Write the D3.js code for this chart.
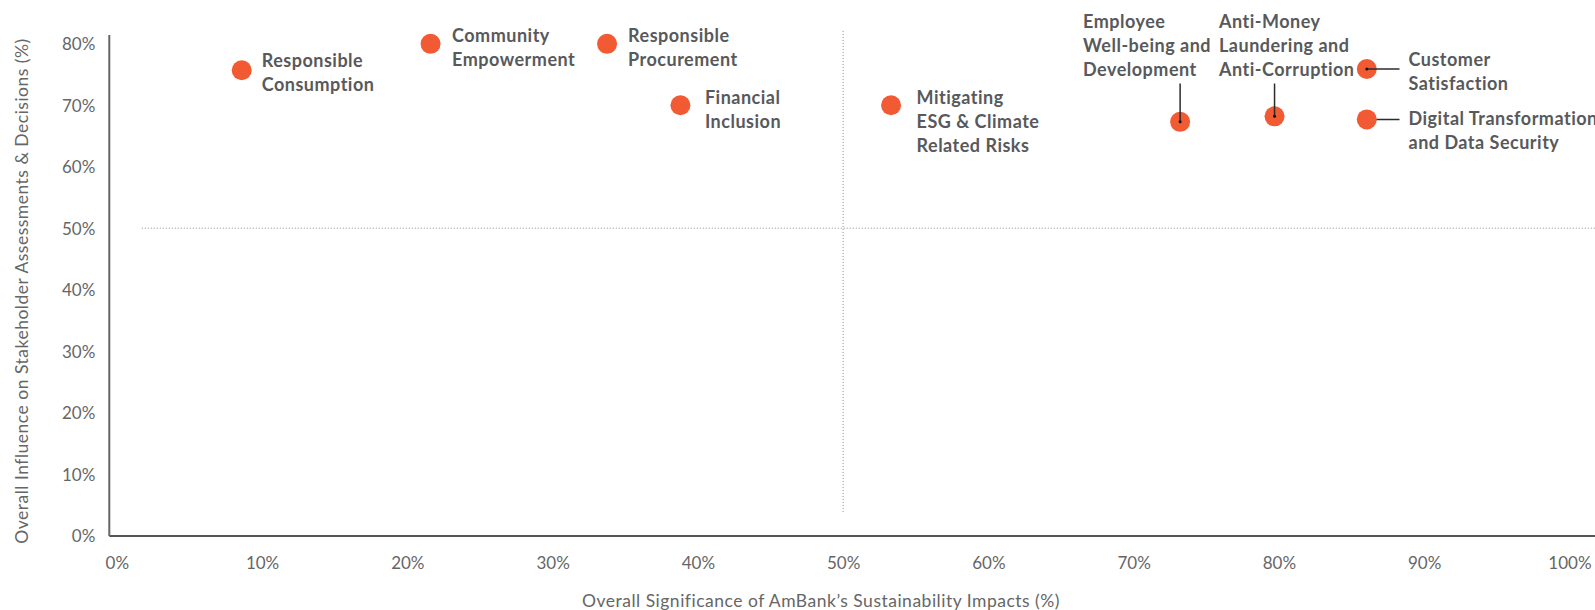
<!DOCTYPE html>
<html>
<head>
<meta charset="utf-8">
<script src="https://cdn.jsdelivr.net/npm/d3@7/dist/d3.min.js"></script>
<style>
  html, body { margin: 0; padding: 0; background: #fff; }
  svg { display: block; font-family: Lato, "Noto Sans", sans-serif; }
</style>
</head>
<body>
<svg id="chart" width="1595" height="610"></svg>
<script>
// ---- data ----
const topics = [
  "Responsible Consumption",
  "Community Empowerment",
  "Responsible Procurement",
  "Financial Inclusion",
  "Mitigating ESG & Climate Related Risks",
  "Employee Well-being and Development",
  "Anti-Money Laundering and Anti-Corruption",
  "Customer Satisfaction",
  "Digital Transformation and Data Security"
];
const significance = [8.6, 21.6, 33.75, 38.8, 53.3, 73.2, 79.7, 86.05, 86.05];
const influence    = [75.7, 80.0, 80.0, 70.0, 70.0, 67.3, 68.2, 75.9, 67.7];
const xTicks = [0, 10, 20, 30, 40, 50, 60, 70, 80, 90, 100];
const yTicks = [0, 10, 20, 30, 40, 50, 60, 70, 80];
const xTitle = "Overall Significance of AmBank\u2019s Sustainability Impacts (%)";
const yTitle = "Overall Influence on Stakeholder Assessments & Decisions (%)";
const threshold = 50;

// ---- label layout (not data) ----
const labelLines = [
  ["Responsible", "Consumption"],
  ["Community", "Empowerment"],
  ["Responsible", "Procurement"],
  ["Financial", "Inclusion"],
  ["Mitigating", "ESG & Climate", "Related Risks"],
  ["Employee", "Well-being and", "Development"],
  ["Anti-Money", "Laundering and", "Anti-Corruption"],
  ["Customer", "Satisfaction"],
  ["Digital Transformation", "and Data Security"]
];
const labelLayout = [
  {mode: "right", dx: 20, dy: -3},
  {mode: "right", dx: 21.5, dy: -2},
  {mode: "right", dx: 21, dy: -2},
  {mode: "right", dx: 24.5, dy: -1.5},
  {mode: "right", dx: 25.5, dy: -1},
  {mode: "above", tx: 1083, ty: 27.5, leaderTop: 83.5},
  {mode: "above", tx: 1219, ty: 27.5, leaderTop: 83.5},
  {mode: "leader", tx: 1408.5, dy: -3.4, leaderEnd: 1399.5, onTop: true},
  {mode: "leader", tx: 1408.5, dy: 6, leaderEnd: 1399.5, onTop: false}
];

const W = 1595, H = 610;
const svg = d3.select("#chart");

const x = d3.scaleLinear().domain([-0.55, 101.76]).range([108.8, 1595]);
const y = d3.scaleLinear().domain([0, 81.5]).range([535.5, 34.6]);

const TICK_COLOR = "#666";
const LABEL_COLOR = "#58595b";
const DOT_COLOR = "#f15a33";

// dotted quadrant lines
svg.append("line")
  .attr("x1", x(1.72)).attr("x2", W)
  .attr("y1", y(threshold)).attr("y2", y(threshold))
  .attr("stroke", "#8a8a8a").attr("stroke-width", 1).attr("stroke-dasharray", "1,2");
svg.append("line")
  .attr("x1", x(threshold)).attr("x2", x(threshold))
  .attr("y1", y(82.1)).attr("y2", y(3.66))
  .attr("stroke", "#8a8a8a").attr("stroke-width", 1).attr("stroke-dasharray", "1,2");

// axes
const xAxis = d3.axisBottom(x).tickValues(xTicks).tickSize(0).tickPadding(0)
  .tickFormat(d => d + "%");
const gx = svg.append("g").attr("transform", `translate(0,${y(0)})`).call(xAxis);
gx.select(".domain").attr("stroke", "#555").attr("stroke-width", 2);
gx.selectAll(".tick text")
  .attr("y", 33.5).attr("dy", null)
  .attr("fill", TICK_COLOR).style("font-size", "17px").style("font-family", "Lato");

const yAxis = d3.axisLeft(y).tickValues(yTicks).tickSize(0).tickPadding(13.5)
  .tickFormat(d => d + "%");
const gy = svg.append("g").attr("transform", `translate(${x(-0.55)},0)`).call(yAxis);
gy.select(".domain").attr("stroke", "#666").attr("stroke-width", 2);
gy.selectAll(".tick text")
  .attr("dy", "0.36em")
  .attr("fill", TICK_COLOR).style("font-size", "17px").style("font-family", "Lato");

// axis titles
svg.append("text")
  .attr("x", 821).attr("y", 607)
  .attr("text-anchor", "middle")
  .attr("fill", TICK_COLOR).style("font-size", "17.5px").style("letter-spacing", "0.5px")
  .text(xTitle);
svg.append("text")
  .attr("transform", `translate(28,291) rotate(-90)`)
  .attr("text-anchor", "middle")
  .attr("fill", TICK_COLOR).style("font-size", "17.5px").style("letter-spacing", "0.5px")
  .text(yTitle);

const pts = topics.map((t, i) => ({
  name: t, sx: x(significance[i]), sy: y(influence[i]), lay: labelLayout[i], lines: labelLines[i]
}));

const LEADER = "#2b2b2b";
pts.forEach(p => {
  if (p.lay.mode === "leader" && !p.lay.onTop) {
    svg.append("line").attr("x1", p.sx).attr("x2", p.lay.leaderEnd)
      .attr("y1", p.sy).attr("y2", p.sy)
      .attr("stroke", LEADER).attr("stroke-width", 1.5);
  }
});

// dots
svg.append("g").selectAll("circle").data(pts).join("circle")
  .attr("cx", d => d.sx).attr("cy", d => d.sy).attr("r", 10)
  .attr("fill", DOT_COLOR);

// leaders on top
pts.forEach(p => {
  if (p.lay.mode === "above") {
    svg.append("line").attr("x1", p.sx).attr("x2", p.sx)
      .attr("y1", p.lay.leaderTop).attr("y2", p.sy)
      .attr("stroke", LEADER).attr("stroke-width", 1.5);
    svg.append("circle").attr("cx", p.sx).attr("cy", p.sy).attr("r", 1.5).attr("fill", "#111");
  } else if (p.lay.mode === "leader" && p.lay.onTop) {
    svg.append("line").attr("x1", p.sx).attr("x2", p.lay.leaderEnd)
      .attr("y1", p.sy).attr("y2", p.sy)
      .attr("stroke", LEADER).attr("stroke-width", 1.5);
    svg.append("circle").attr("cx", p.sx).attr("cy", p.sy).attr("r", 1.5).attr("fill", "#111");
  }
});

// labels
const LH = 24;
pts.forEach(p => {
  let tx, ty;
  if (p.lay.mode === "right") { tx = p.sx + p.lay.dx; ty = p.sy + p.lay.dy; }
  else if (p.lay.mode === "above") { tx = p.lay.tx; ty = p.lay.ty; }
  else { tx = p.lay.tx; ty = p.sy + p.lay.dy; }
  const t = svg.append("text")
    .attr("fill", LABEL_COLOR).style("font-size", "18px").style("font-weight", 700)
    .style("letter-spacing", "0.5px");
  p.lines.forEach((ln, k) => {
    t.append("tspan").attr("x", tx).attr("y", ty + k * LH).text(ln);
  });
});
</script>
</body>
</html>
